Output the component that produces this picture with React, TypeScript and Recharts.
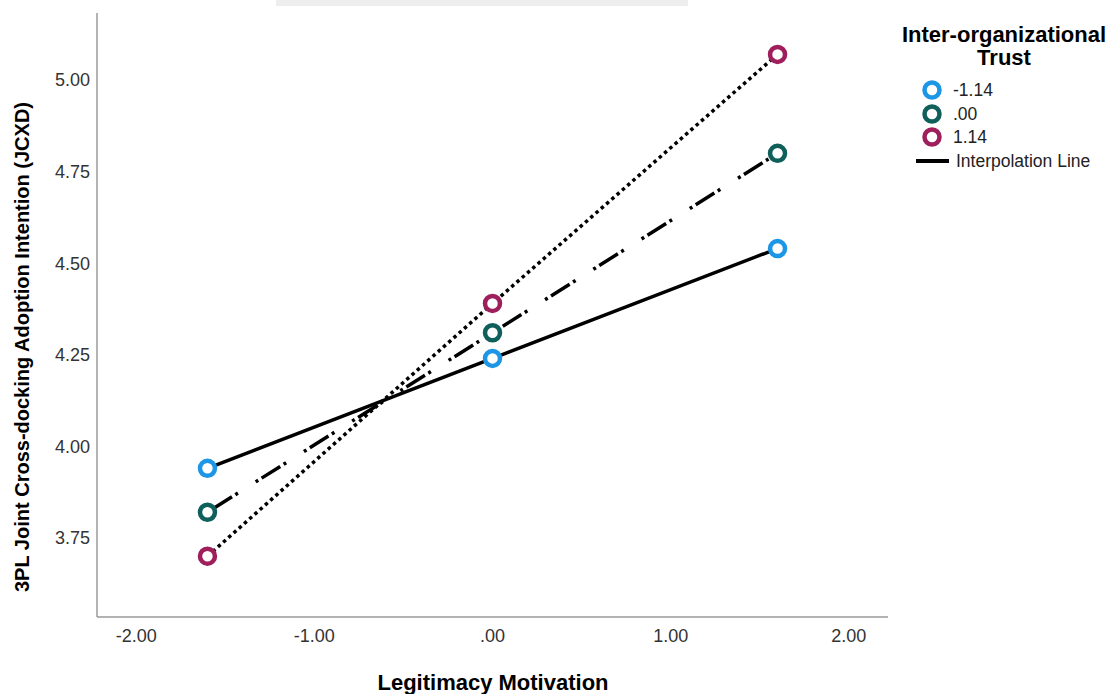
import { Line, LineChart, XAxis, YAxis } from 'recharts';

// 調整変数 Inter-organizational Trust の3水準(-1SD / 平均 / +1SD)ごとの単純傾斜
const motivation = [-1.6, 0, 1.6];
const trustLow = [3.94, 4.24, 4.54];
const trustMean = [3.82, 4.31, 4.8];
const trustHigh = [3.7, 4.39, 5.07];
const trustLabels = ['-1.14', '.00', '1.14'];

const xTicks = [-2, -1, 0, 1, 2];
const yTicks = [3.75, 4, 4.25, 4.5, 4.75, 5];

const RING = ['#1e96e6', '#0f5f5a', '#9e1f5b'];
const DASH = [undefined, '3 4 22 4 3 21', '3.5 3.5'];
const FONT = '"Liberation Sans", Arial, sans-serif';

// SPSS 風: 0 未満の先頭ゼロを落とす(0.00 -> .00)
const fmt = (v: number) => v.toFixed(2).replace(/^(-?)0\./, '$1.');

const data = motivation.map((x, i) => ({
  x,
  low: trustLow[i],
  mean: trustMean[i],
  high: trustHigh[i],
}));
const KEYS = ['low', 'mean', 'high'];

const ring = (color: string) => (p: any) => (
  <circle
    key={`r-${color}-${p.index}`}
    cx={p.cx}
    cy={p.cy}
    r={7.5}
    fill="#fff"
    stroke={color}
    strokeWidth={4.5}
  />
);

function LegendRing({ color }: { color: string }) {
  return (
    <svg width={22} height={22} style={{ display: 'block' }}>
      <circle cx={11} cy={11} r={7.5} fill="#fff" stroke={color} strokeWidth={4.5} />
    </svg>
  );
}

export default function App() {
  const tick = { fill: '#333', fontSize: 18, fontFamily: FONT };
  return (
    <div
      style={{
        position: 'absolute',
        left: 0,
        top: 0,
        width: 1120,
        height: 694,
        background: '#fff',
        fontFamily: FONT,
        overflow: 'hidden',
      }}
    >
      {/* 上端のスキャン跡 */}
      <div style={{ position: 'absolute', left: 276, top: 0, width: 412, height: 6, background: '#eeeeee' }} />

      <LineChart width={1120} height={694} data={data} margin={{ top: 13, right: 232, bottom: 47, left: 37 }}>
        <XAxis
          dataKey="x"
          type="number"
          domain={[-2.22, 2.22]}
          ticks={xTicks}
          tickFormatter={fmt}
          allowDataOverflow
          height={30}
          tickLine={false}
          tickSize={6}
          tickMargin={6}
          axisLine={{ stroke: '#9a9a9a', strokeWidth: 1.5 }}
          tick={tick}
        />
        <YAxis
          type="number"
          domain={[3.534, 5.183]}
          ticks={yTicks}
          tickFormatter={fmt}
          allowDataOverflow
          width={60}
          tickLine={false}
          tickSize={6}
          tickMargin={1}
          axisLine={{ stroke: '#9a9a9a', strokeWidth: 1.5 }}
          tick={tick}
        />
        {/* 先にマーカー(リング)、その上に黒の補間線 */}
        {KEYS.map((k, i) => (
          <Line
            key={`dot-${k}`}
            dataKey={k}
            stroke="none"
            dot={ring(RING[i])}
            activeDot={false}
            isAnimationActive={false}
          />
        ))}
        {KEYS.map((k, i) => (
          <Line
            key={`line-${k}`}
            dataKey={k}
            stroke="#000"
            strokeWidth={3.5}
            strokeDasharray={DASH[i]}
            dot={false}
            activeDot={false}
            isAnimationActive={false}
          />
        ))}
      </LineChart>

      <div
        style={{
          position: 'absolute',
          left: 22,
          top: 347,
          transform: 'translate(-50%, -50%) rotate(-90deg)',
          whiteSpace: 'nowrap',
          fontWeight: 'bold',
          fontSize: 20,
          color: '#000',
        }}
      >
        3PL Joint Cross-docking Adoption Intention (JCXD)
      </div>
      <div
        style={{
          position: 'absolute',
          left: 493,
          top: 683,
          transform: 'translate(-50%, -50%)',
          whiteSpace: 'nowrap',
          fontWeight: 'bold',
          fontSize: 22,
        }}
      >
        Legitimacy Motivation
      </div>

      {/* 凡例 */}
      <div
        style={{
          position: 'absolute',
          left: 1004,
          top: 23,
          transform: 'translateX(-50%)',
          textAlign: 'center',
          fontWeight: 'bold',
          fontSize: 22,
          lineHeight: '23px',
          whiteSpace: 'nowrap',
        }}
      >
        Inter-organizational
        <br />
        Trust
      </div>
      {trustLabels.map((lab, i) => (
        <div
          key={lab}
          style={{
            position: 'absolute',
            left: 921,
            top: [79, 103, 126][i],
            display: 'flex',
            alignItems: 'center',
            fontSize: 17.5,
            lineHeight: '22px',
            color: '#222',
          }}
        >
          <LegendRing color={RING[i]} />
          <span style={{ marginLeft: 10 }}>{lab}</span>
        </div>
      ))}
      <div
        style={{
          position: 'absolute',
          left: 916,
          top: 150,
          display: 'flex',
          alignItems: 'center',
          fontSize: 17.5,
          lineHeight: '22px',
          color: '#222',
        }}
      >
        <div style={{ width: 33, height: 4, background: '#000' }} />
        <span style={{ marginLeft: 7 }}>Interpolation Line</span>
      </div>
    </div>
  );
}
